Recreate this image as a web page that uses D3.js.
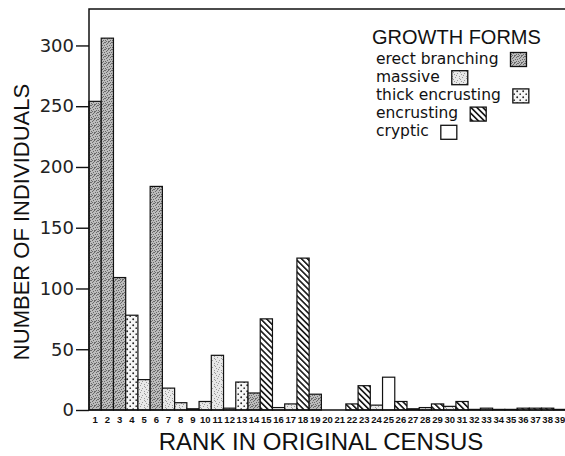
<!DOCTYPE html>
<html>
<head>
<meta charset="utf-8">
<script src="https://cdn.jsdelivr.net/npm/d3@7/dist/d3.min.js"></script>
<style>
  html, body { margin: 0; padding: 0; background: #fff; }
  svg { display: block; }
</style>
</head>
<body>
<svg id="chart" width="565" height="456"></svg>
<script>
// Rank of each species in the original census
const ranks = d3.range(1, 40);
// Number of individuals per rank
const counts = [254, 306, 109, 78, 25, 184, 18, 6, 1, 7,
                45, 1.5, 23, 14, 75, 2, 5, 125, 13, 0,
                0, 5, 20, 4, 27, 7, 1, 2, 5, 3,
                7, 0.5, 1.5, 0.5, 0.5, 1.5, 1.5, 1.5, 0.5];
// Growth form of each ranked species
const forms = ["EB", "EB", "EB", "TE", "M", "EB", "M", "M", "EB", "M",
               "M", "M", "TE", "EB", "E", "C", "M", "E", "EB", "C",
               "C", "E", "E", "M", "C", "E", "M", "M", "E", "M",
               "E", "C", "M", "C", "C", "E", "E", "E", "C"];
const formKeys = ["EB", "M", "TE", "E", "C"];
const formNames = ["erect branching", "massive", "thick encrusting", "encrusting", "cryptic"];
const yTicks = [0, 50, 100, 150, 200, 250, 300];

const svg = d3.select("#chart");
const margin = { left: 89, right: 566, top: 9, bottom: 410 };

const x = d3.scaleBand().domain(ranks).range([margin.left, margin.right]).padding(0);
const y = d3.scaleLinear().domain([0, 330]).range([margin.bottom, margin.top]);

// ---- fill patterns for the growth forms ----
const defs = svg.append("defs");

// stipple tile: scattered single pixels on a flat ground
function stipple(id, ground, ink, pts) {
  const p = defs.append("pattern").attr("id", id)
    .attr("patternUnits", "userSpaceOnUse").attr("width", 7).attr("height", 7);
  p.append("rect").attr("width", 7).attr("height", 7).attr("fill", ground);
  pts.forEach(([a, b]) =>
    p.append("rect").attr("x", a).attr("y", b).attr("width", 1).attr("height", 1).attr("fill", ink));
}

// erect branching: dense grey stipple
stipple("p-EB", "#bcbcbc", "#6a6a6a",
  [[0,0],[3,0],[5,1],[1,2],[4,3],[6,3],[2,4],[0,5],[5,5],[3,6],[1,6],[6,0],[2,1],[4,6]]);

// massive: light, sparse stipple
stipple("p-M", "#e8e8e8", "#9a9a9a",
  [[0,0],[4,1],[2,3],[6,4],[1,5],[4,6],[5,2]]);

// thick encrusting: coarse dots on white
const pTE = defs.append("pattern").attr("id", "p-TE")
  .attr("patternUnits", "userSpaceOnUse").attr("width", 6).attr("height", 6);
pTE.append("rect").attr("width", 6).attr("height", 6).attr("fill", "#f6f6f6");
pTE.append("circle").attr("cx", 1.2).attr("cy", 1.2).attr("r", 0.95).attr("fill", "#222");
pTE.append("circle").attr("cx", 4.2).attr("cy", 4.2).attr("r", 0.85).attr("fill", "#333");

// encrusting: diagonal hatching
const pE = defs.append("pattern").attr("id", "p-E")
  .attr("patternUnits", "userSpaceOnUse").attr("width", 4.2).attr("height", 4.2)
  .attr("patternTransform", "rotate(-45)");
pE.append("rect").attr("width", 4.2).attr("height", 4.2).attr("fill", "#fff");
pE.append("rect").attr("x", 0).attr("y", 0).attr("width", 1.6).attr("height", 4.2).attr("fill", "#151515");

const fillOf = k => k === "C" ? "#fff" : `url(#p-${k})`;

// ---- bars ----
svg.append("g").selectAll("rect")
  .data(ranks.map((r, i) => ({ r, v: counts[i], f: forms[i] })))
  .join("rect")
  .attr("x", d => x(d.r))
  .attr("y", d => y(d.v))
  .attr("width", x.bandwidth())
  .attr("height", d => y(0) - y(d.v))
  .attr("fill", d => fillOf(d.f))
  .attr("stroke", "#111")
  .attr("stroke-width", 1.2);

// ---- frame: left axis line and top rule ----
svg.append("path")
  .attr("d", `M${margin.left},${margin.bottom}V${margin.top}H${margin.right}`)
  .attr("fill", "none").attr("stroke", "#111").attr("stroke-width", 1.5);

// baseline
svg.append("line")
  .attr("x1", margin.left).attr("x2", margin.right)
  .attr("y1", y(0)).attr("y2", y(0))
  .attr("stroke", "#111").attr("stroke-width", 1.5);

// ---- y axis ----
const yAxis = svg.append("g")
  .attr("transform", `translate(${margin.left},0)`)
  .call(d3.axisLeft(y).tickValues(yTicks).tickSize(13).tickPadding(2));
yAxis.select(".domain").remove();
yAxis.selectAll(".tick line").attr("stroke", "#111").attr("stroke-width", 1.4);
yAxis.selectAll(".tick text")
  .attr("font-family", "'DejaVu Sans', sans-serif")
  .attr("font-size", 18).attr("fill", "#222");

// ---- x axis labels ----
const xAxis = svg.append("g")
  .attr("transform", `translate(0,${y(0)})`)
  .call(d3.axisBottom(x).tickSize(0).tickPadding(6));
xAxis.select(".domain").remove();
xAxis.selectAll(".tick text")
  .attr("font-family", "'Liberation Sans Narrow', 'Liberation Sans', sans-serif")
  .attr("font-weight", "bold")
  .attr("font-size", 9.5).attr("fill", "#111");

// ---- axis titles ----
svg.append("text")
  .attr("x", 321).attr("y", 450)
  .attr("text-anchor", "middle")
  .attr("font-family", "'Liberation Sans', Arial, sans-serif")
  .attr("font-size", 24).attr("fill", "#111")
  .text("RANK IN ORIGINAL CENSUS");

svg.append("text")
  .attr("transform", "translate(29,222) rotate(-90)")
  .attr("text-anchor", "middle")
  .attr("font-family", "'Liberation Sans', Arial, sans-serif")
  .attr("font-size", 22).attr("fill", "#111")
  .text("NUMBER OF INDIVIDUALS");

// ---- legend ----
const legend = svg.append("g");
legend.append("text")
  .attr("x", 372).attr("y", 44)
  .attr("font-family", "'Liberation Sans', Arial, sans-serif")
  .attr("font-size", 20).attr("fill", "#111")
  .text("GROWTH FORMS");

formKeys.forEach((k, i) => {
  const base = 63.5 + i * 18.2;
  const t = legend.append("text")
    .attr("x", 376).attr("y", base)
    .attr("font-family", "'DejaVu Sans', sans-serif")
    .attr("font-size", 15.5).attr("fill", "#111")
    .text(formNames[i]);
  const w = t.node().getComputedTextLength();
  legend.append("rect")
    .attr("x", 376 + w + 12).attr("y", base - 11)
    .attr("width", 16).attr("height", 14)
    .attr("fill", fillOf(k))
    .attr("stroke", "#111").attr("stroke-width", 1.3);
});
</script>
</body>
</html>
